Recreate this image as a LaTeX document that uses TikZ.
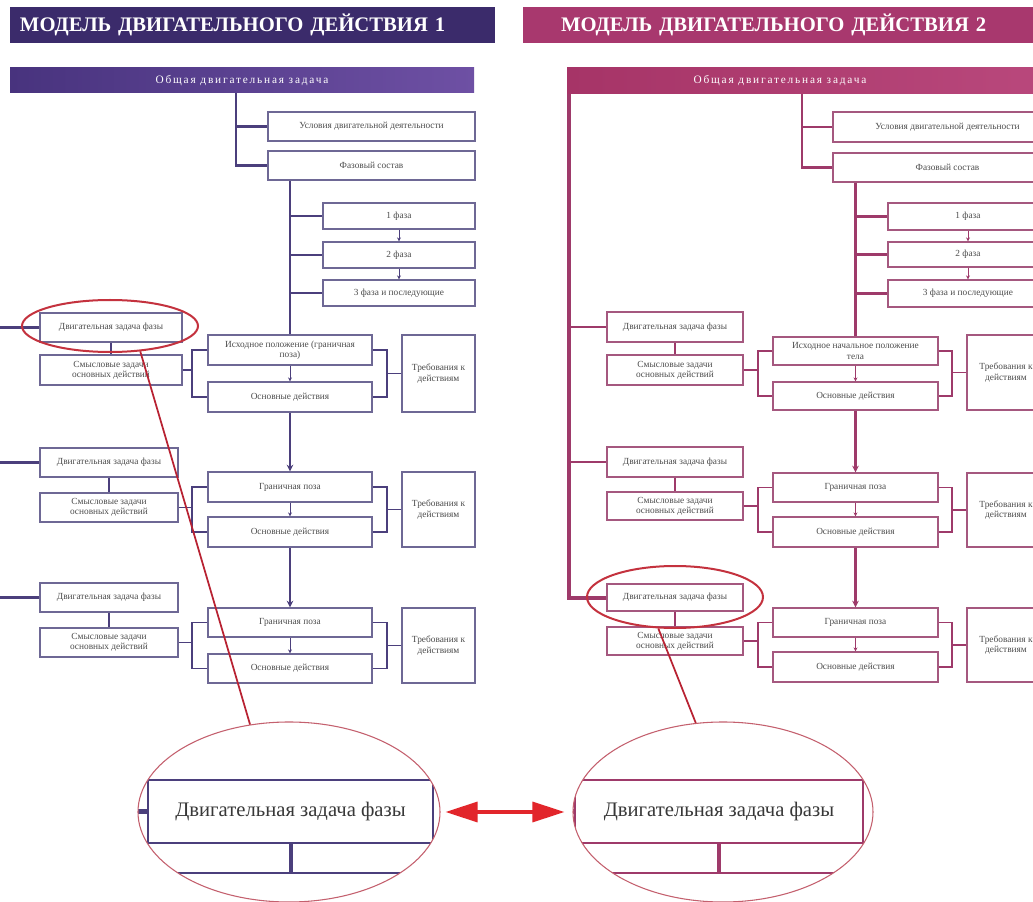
\documentclass[tikz,border=0pt]{standalone}
\usepackage{fontspec}
\setmainfont{Liberation Serif}
\usetikzlibrary{shapes.geometric,arrows.meta,calc}

% palette
\definecolor{hdrA}{HTML}{3B2B6B}
\definecolor{barA1}{HTML}{48337E}
\definecolor{barA2}{HTML}{6E50A4}
\definecolor{lineA}{HTML}{4B3F7C}
\definecolor{edgeA}{HTML}{6E6895}
\definecolor{hdrB}{HTML}{A8386E}
\definecolor{barB1}{HTML}{A63467}
\definecolor{barB2}{HTML}{B9487C}
\definecolor{lineB}{HTML}{9E3A6A}
\definecolor{edgeB}{HTML}{A5587F}
\definecolor{ring}{HTML}{C4323E}
\definecolor{ringthin}{HTML}{C4606E}
\definecolor{pointer}{HTML}{B82232}
\definecolor{arrred}{HTML}{E2262B}

% box from corner (x1,y1) to (x2,y2), sizes in pixel units
\newcommand\bx[7]{%
  \node[#1, minimum width={(#5-#3)*0.75pt}, minimum height={(#6-#4)*0.75pt}]
    (#2) at ({(#3+#5)/2},{(#4+#6)/2}) {#7};}

\tikzset{
  hdr/.style={draw=none, text=white, inner sep=0pt, align=left,
    font=\bfseries\fontsize{15.5}{16}\selectfont},
  bartxt/.style={text=white, inner sep=0pt,
    font=\fontsize{8.5}{9}\selectfont\addfontfeatures{LetterSpace=16}},
  topbarA/.style={bartxt, draw=none, left color=barA1, right color=barA2},
  topbarB/.style={draw=none, left color=barB1, right color=barB2, inner sep=0pt},
  cell/.style={draw, fill=white, line width=0.9pt, inner sep=1pt, align=center,
    text=black!70, font=\fontsize{7}{7.6}\selectfont},
  cellA/.style={cell, draw=edgeA},
  cellB/.style={cell, draw=edgeB},
  trunkA/.style={draw=lineA, line width=2pt},
  trunkB/.style={draw=lineB, line width=2pt},
  mainB/.style={draw=lineB, line width=3pt},
  branchA/.style={draw=lineA, line width=1.6pt},
  branchB/.style={draw=lineB, line width=1.6pt},
  brA/.style={draw=lineA, line width=1.3pt},
  brB/.style={draw=lineB, line width=1.3pt},
  tipA/.style={draw=lineA, line width=0.6pt, -{Stealth[length=3pt,width=3pt]}},
  tipB/.style={draw=lineB, line width=0.6pt, -{Stealth[length=3pt,width=3pt]}},
  downA/.style={trunkA, -{Stealth[length=5pt,width=5pt]}},
  downB/.style={trunkB, -{Stealth[length=5pt,width=5pt]}},
  bigcell/.style={draw, fill=white, line width=1.6pt, inner sep=0pt,
    text=black!78, font=\fontsize{15.5}{16}\selectfont},
  bigcellA/.style={bigcell, draw=lineA},
  bigcellB/.style={bigcell, draw=lineB},
  ringsmall/.style={ellipse, draw=ring, line width=1.5pt, inner sep=0pt},
  ringbig/.style={ellipse, draw=ringthin, line width=0.8pt, inner sep=0pt},
  pointerline/.style={draw=pointer, line width=1.3pt},
  dblarrow/.style={draw=arrred, line width=2.4pt,
    {Triangle[length=24pt,width=15pt]}-{Triangle[length=24pt,width=15pt]}}
}

\begin{document}
\begin{tikzpicture}[x=0.75pt,y=-0.75pt]
\useasboundingbox (0,0) rectangle (1033,902);
\clip (0,0) rectangle (1033,902);
\fill[white] (0,0) rectangle (1033,902);

% ---------- headers ----------
\bx{hdr, fill=hdrA, text width={(505-40)*0.75pt}}{hL}{10}{7}{495}{43}{МОДЕЛЬ ДВИГАТЕЛЬНОГО ДЕЙСТВИЯ 1}
\bx{hdr, fill=hdrB, text width={2*(784-561)*0.75pt}}{hR}{523}{7}{1045}{43}{МОДЕЛЬ ДВИГАТЕЛЬНОГО ДЕЙСТВИЯ 2}

% ================= model 1 =================
\bx{topbarA}{barL}{10}{68}{474}{93}{Общая двигательная задача}

\bx{cellA}{condL}{268}{112}{475}{141}{Условия двигательной деятельности}
\bx{cellA}{fazL}{268}{151}{475}{180}{Фазовый состав}
\bx{cellA}{f1L}{323}{203}{475}{229}{1 фаза}
\bx{cellA}{f2L}{323}{242}{475}{268}{2 фаза}
\bx{cellA}{f3L}{323}{280}{475}{306}{3 фаза и последующие}

% phase blocks
\bx{cellA}{dzL1}{40}{313}{182}{342}{Двигательная задача фазы}
\bx{cellA}{smL1}{40}{355}{182}{385}{Смысловые задачи\\основных действий}
\bx{cellA}{isL1}{208}{335}{372}{365}{Исходное положение (граничная\\поза)}
\bx{cellA}{osL1}{208}{382}{372}{412}{Основные действия}
\bx{cellA}{trL1}{402}{335}{475}{412}{Требования к\\действиям}

\bx{cellA}{dzL2}{40}{448}{178}{477}{Двигательная задача фазы}
\bx{cellA}{smL2}{40}{493}{178}{522}{Смысловые задачи\\основных действий}
\bx{cellA}{isL2}{208}{472}{372}{502}{Граничная поза}
\bx{cellA}{osL2}{208}{517}{372}{547}{Основные действия}
\bx{cellA}{trL2}{402}{472}{475}{547}{Требования к\\действиям}

\bx{cellA}{dzL3}{40}{583}{178}{612}{Двигательная задача фазы}
\bx{cellA}{smL3}{40}{628}{178}{657}{Смысловые задачи\\основных действий}
\bx{cellA}{isL3}{208}{608}{372}{637}{Граничная поза}
\bx{cellA}{osL3}{208}{654}{372}{683}{Основные действия}
\bx{cellA}{trL3}{402}{608}{475}{683}{Требования к\\действиям}

\coordinate (tkL) at (236,0);
\coordinate (bxL) at (192,0);
\coordinate (byL) at (387,0);
\draw[trunkA] (tkL |- barL.south) -- (tkL |- fazL.west) -- (fazL.west);
\draw[branchA] (tkL |- condL.west) -- (condL.west);
\draw[trunkA] (isL1.north |- fazL.south) -- (isL1.north);
\foreach \f in {f1L,f2L,f3L} \draw[branchA] (isL1.north |- \f.west) -- (\f.west);
\draw[tipA] (f1L.south) -- (f2L.north);
\draw[tipA] (f2L.south) -- (f3L.north);

\foreach \i in {1,2,3}{
  \draw[trunkA] (dzL\i.west) -- ++(-45,0);
  \draw[branchA] (dzL\i.south) -- (smL\i.north);
  \draw[brA] (isL\i.west) -- (isL\i.west -| bxL) |- (osL\i.west);
  \draw[brA] (smL\i.east) -- (smL\i.east -| bxL);
  \draw[brA] (isL\i.east) -- (isL\i.east -| byL) |- (osL\i.east);
  \draw[brA] (trL\i.west) -- (trL\i.west -| byL);
  \draw[tipA] (isL\i.south) -- (osL\i.north);
}
\draw[downA] (osL1.south) -- (isL2.north);
\draw[downA] (osL2.south) -- (isL3.north);

% ================= model 2 =================
\bx{topbarB}{barR}{567}{68}{1045}{94}{}
\node[bartxt] (barRt) at (780,81) {Общая двигательная задача};

\bx{cellB}{condR}{833}{112}{1062}{142}{Условия двигательной деятельности}
\bx{cellB}{fazR}{833}{153}{1062}{182}{Фазовый состав}
\bx{cellB}{f1R}{888}{203}{1048}{230}{1 фаза}
\bx{cellB}{f2R}{888}{242}{1048}{267}{2 фаза}
\bx{cellB}{f3R}{888}{280}{1048}{307}{3 фаза и последующие}

\bx{cellB}{dzR1}{607}{312}{743}{342}{Двигательная задача фазы}
\bx{cellB}{smR1}{607}{355}{743}{385}{Смысловые задачи\\основных действий}
\bx{cellB}{isR1}{773}{337}{938}{365}{Исходное начальное положение\\тела}
\bx{cellB}{osR1}{773}{382}{938}{410}{Основные действия}
\bx{cellB}{trR1}{967}{335}{1045}{410}{Требования к\\действиям}

\bx{cellB}{dzR2}{607}{447}{743}{477}{Двигательная задача фазы}
\bx{cellB}{smR2}{607}{492}{743}{520}{Смысловые задачи\\основных действий}
\bx{cellB}{isR2}{773}{473}{938}{502}{Граничная поза}
\bx{cellB}{osR2}{773}{517}{938}{547}{Основные действия}
\bx{cellB}{trR2}{967}{473}{1045}{547}{Требования к\\действиям}

\bx{cellB}{dzR3}{607}{584}{743}{611}{Двигательная задача фазы}
\bx{cellB}{smR3}{607}{627}{743}{655}{Смысловые задачи\\основных действий}
\bx{cellB}{isR3}{773}{608}{938}{637}{Граничная поза}
\bx{cellB}{osR3}{773}{652}{938}{682}{Основные действия}
\bx{cellB}{trR3}{967}{608}{1045}{682}{Требования к\\действиям}

\coordinate (tkR) at (802,0);
\coordinate (vkR) at (569,0);
\coordinate (bxR) at (758,0);
\coordinate (byR) at (952,0);
\draw[trunkB] (tkR |- barR.south) -- (tkR |- fazR.west) -- (fazR.west);
\draw[branchB] (tkR |- condR.west) -- (condR.west);
\draw[trunkB] (isR1.north |- fazR.south) -- (isR1.north);
\foreach \f in {f1R,f2R,f3R} \draw[branchB] (isR1.north |- \f.west) -- (\f.west);
\draw[tipB] (f1R.south) -- (f2R.north);
\draw[tipB] (f2R.south) -- (f3R.north);

\draw[mainB] (vkR |- barR.south) |- (dzR3.west);
\draw[trunkB] (vkR |- dzR1.west) -- (dzR1.west);
\draw[trunkB] (vkR |- dzR2.west) -- (dzR2.west);

\foreach \i in {1,2,3}{
  \draw[branchB] (dzR\i.south) -- (smR\i.north);
  \draw[brB] (isR\i.west) -- (isR\i.west -| bxR) |- (osR\i.west);
  \draw[brB] (smR\i.east) -- (smR\i.east -| bxR);
  \draw[brB] (isR\i.east) -- (isR\i.east -| byR) |- (osR\i.east);
  \draw[brB] (trR\i.west) -- (trR\i.west -| byR);
  \draw[tipB] (isR\i.south) -- (osR\i.north);
}
\draw[downB] (osR1.south) -- (isR2.north);
\draw[downB] (osR2.south) -- (isR3.north);

% ================= magnified views =================
\begin{scope}
  \clip (289,812) ellipse [x radius=113.25pt, y radius=67.5pt];
  \bx{bigcellA}{zdL}{148}{780}{433}{843}{Двигательная задача фазы}
  \bx{bigcellA}{zsL}{148}{873}{433}{950}{}
  \draw[draw=lineA, line width=3pt] (zdL.south) -- (zsL.north);
  \draw[draw=lineA, line width=4pt] (zdL.west) -- ++(-40,0);
\end{scope}
\node[ringbig, minimum width=226.5pt, minimum height=135pt] (bigL) at (289,812) {};

\begin{scope}
  \clip (723,812) ellipse [x radius=112.5pt, y radius=67.5pt];
  \bx{bigcellB}{zdR}{575}{780}{863}{843}{Двигательная задача фазы}
  \bx{bigcellB}{zsR}{575}{873}{863}{950}{}
  \draw[draw=lineB, line width=3pt] (zdR.south) -- (zsR.north);
  \draw[draw=lineB, line width=4pt] (zdR.west) -- ++(-40,0);
\end{scope}
\node[ringbig, minimum width=225pt, minimum height=135pt] (bigR) at (723,812) {};

% highlight rings and pointers
\node[ringsmall, minimum width=132pt, minimum height=39pt] (ellL) at (110,326) {};
\node[ringsmall, minimum width=132pt, minimum height=46.5pt] (ellR) at (675,597) {};
\draw[pointerline] (ellL.-40) -- (bigL.114);
\draw[pointerline] (ellR.-118) -- (bigR.107);

\draw[dblarrow, shorten <=3.75pt, shorten >=6pt] (bigL.east) -- (bigR.west);
\end{tikzpicture}
\end{document}
